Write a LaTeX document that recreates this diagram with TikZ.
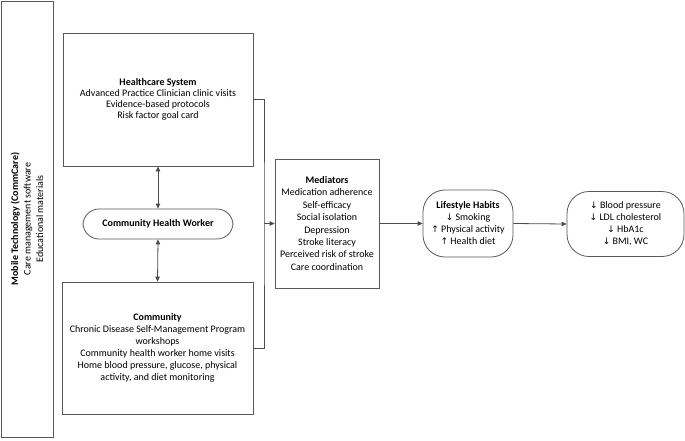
\documentclass[tikz,border=0pt]{standalone}
\usepackage{fontspec}
\setmainfont{Carlito}
\newfontfamily\symfont{DejaVu Sans}
\usepackage{tikz}
\usetikzlibrary{arrows.meta}
\newcommand{\arrdown}{{\symfont\small ↓}}
\newcommand{\arrup}{{\symfont\small ↑}}

\begin{document}
\begin{tikzpicture}[x=1pt,y=-1pt,
  font=\fontsize{10}{12}\selectfont,
  box/.style={draw=black!65,line width=0.8pt,align=center,inner sep=2pt},
  pill/.style={box,rounded corners=16pt},
  link/.style={draw=black!70,line width=0.8pt},
  tip/.style={-{Triangle[length=5pt,width=4.5pt]}},
  both/.style={{Triangle[length=5pt,width=4.5pt]}-{Triangle[length=5pt,width=4.5pt]}}]
\useasboundingbox (0,0) rectangle (685,440);
% left column
\node[box,rotate=90,minimum width=436pt,minimum height=52pt,font=\fontsize{10}{12.5}\selectfont] (mobile) at (27,219)
  {\textbf{Mobile Technology (CommCare)}\\Care management software\\Educational materials};
\node[box,minimum width=190pt,minimum height=133pt,font=\fontsize{10}{11}\selectfont] (hcs) at (158,99.5)
  {\textbf{Healthcare System}\\Advanced Practice Clinician clinic visits\\Evidence-based protocols\\Risk factor goal card};
\node[pill,minimum width=150pt,minimum height=30pt] (chw) at (158,224)
  {\textbf{Community Health Worker}};
\node[box,minimum width=191pt,minimum height=132pt] (comm) at (157.5,348)
  {\textbf{Community}\\Chronic Disease Self-Management Program\\workshops\\Community health worker home visits\\Home blood pressure, glucose, physical\\activity, and diet monitoring};
% right part
\node[box,minimum width=104pt,minimum height=129pt,font=\fontsize{10}{12.4}\selectfont] (med) at (327,223.5)
  {\textbf{Mediators}\\Medication adherence\\Self-efficacy\\Social isolation\\Depression\\Stroke literacy\\Perceived risk of stroke\\Care coordination};
\node[pill,rounded corners=22pt,minimum width=90pt,minimum height=67pt] (life) at (468,223.5)
  {\textbf{Lifestyle Habits}\\\arrdown{} Smoking\\\arrup{} Physical activity\\\arrup{} Health diet};
\node[pill,rounded corners=22pt,minimum width=117pt,minimum height=65pt] (outc) at (625.5,224)
  {\arrdown{} Blood pressure\\\arrdown{} LDL cholesterol\\\arrdown{} HbA1c\\\arrdown{} BMI, WC};
% connectors
\coordinate (join) at (264,223.5);
\draw[link,both] (hcs.south) -- (chw.north);
\draw[link,both] (chw.south) -- (comm.north);
\draw[link] (hcs.east) -| (join) |- (comm.east);
\draw[link,tip] (join) -- (med.west);
\draw[link,tip] (med.east) -- (life.west);
\draw[link,tip] (life.east) -- (outc.west);
\end{tikzpicture}
\end{document}
